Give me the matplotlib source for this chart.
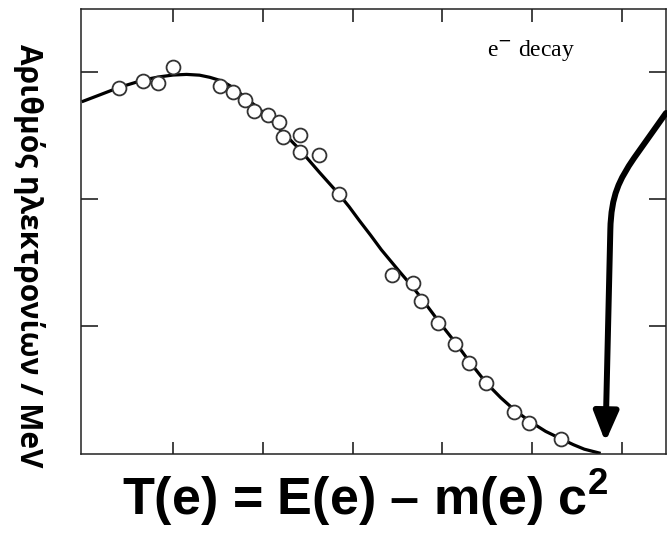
import numpy as np
import matplotlib
matplotlib.use("Agg")
import matplotlib.pyplot as plt
from matplotlib.patches import FancyArrowPatch
from matplotlib.path import Path

plt.rcParams['mathtext.fontset'] = 'custom'
plt.rcParams['mathtext.rm'] = 'Liberation Sans:bold'
plt.rcParams['mathtext.bf'] = 'Liberation Sans:bold'

# measured points (kinetic energy in MeV, counts per MeV, arbitrary units)
energy_pts = [0.080, 0.133, 0.167, 0.199, 0.304, 0.333, 0.360, 0.380, 0.411, 0.436,
              0.445, 0.482, 0.482, 0.525, 0.569, 0.688, 0.734, 0.753, 0.791, 0.829,
              0.860, 0.897, 0.960, 0.992, 1.064]
counts_pts = [2.872, 2.931, 2.911, 3.037, 2.892, 2.840, 2.783, 2.695, 2.661, 2.604,
              2.491, 2.504, 2.372, 2.346, 2.039, 1.402, 1.336, 1.199, 1.026, 0.862,
              0.706, 0.549, 0.325, 0.239, 0.110]

# fitted spectrum curve
energy_fit = [0.0, 0.037, 0.081, 0.137, 0.170, 0.200, 0.230, 0.259, 0.282, 0.308,
              0.335, 0.360, 0.385, 0.411, 0.446, 0.482, 0.526, 0.569, 0.592, 0.615,
              0.640, 0.664, 0.704, 0.733, 0.753, 0.793, 0.831, 0.860, 0.898, 0.930,
              0.960, 0.994, 1.030, 1.065, 1.092, 1.116, 1.149]
counts_fit = [2.77, 2.82, 2.88, 2.94, 2.962, 2.976, 2.981, 2.975, 2.958, 2.93,
              2.875, 2.80, 2.73, 2.65, 2.52, 2.39, 2.21, 2.04, 1.94, 1.83,
              1.715, 1.60, 1.43, 1.31, 1.22, 1.03, 0.86, 0.72, 0.55, 0.435,
              0.34, 0.25, 0.17, 0.11, 0.065, 0.03, 0.0]

x_ticks = [0.2, 0.4, 0.6, 0.8, 1.0, 1.2]
y_ticks = [1, 2, 3]

fig = plt.figure(figsize=(6.67, 5.34), dpi=100)
ax = fig.add_axes([81/667, 80/534, 585/667, 445/534])

ax.plot(energy_fit, counts_fit, color='black', lw=2.3, zorder=2)
ax.plot(energy_pts, counts_pts, 'o', ms=10, mfc='white', mec='#333333', mew=1.3, zorder=3)

ax.set_xlim(-0.005, 1.298)
ax.set_ylim(-0.008, 3.496)
ax.set_xticks(x_ticks)
ax.set_yticks(y_ticks)
ax.tick_params(direction='in', top=True, right=True, labelbottom=False, labelleft=False,
               length=9, width=1.2, color='#222222')
ax.tick_params(axis='y', length=12)
for s in ax.spines.values():
    s.set_linewidth(1.1)
    s.set_color('#222222')

ax.text(0.998, 3.17, r"e$^{-}$ decay", family='Liberation Serif', fontsize=17,
        ha='center', va='center', math_fontfamily='dejavuserif')

# arrow pointing to the endpoint energy
verts = [(1.298, 2.677), (1.227, 2.323), (1.194, 2.150), (1.176, 2.031), (1.174, 1.756),
         (1.163, 0.087)]
codes = [Path.MOVETO, Path.LINETO, Path.CURVE4, Path.CURVE4, Path.CURVE4, Path.LINETO]
arrow = FancyArrowPatch(path=Path(verts, codes), arrowstyle='-|>,head_length=18,head_width=7.5',
                        lw=4.3, color='black', shrinkA=0, shrinkB=0, clip_on=False, zorder=4)
ax.add_patch(arrow)

ax.set_ylabel("Αριθμός ηλεκτρονίων / MeV", family='Open Sans', fontweight='bold',
              fontsize=21.5, rotation=270, va='center')
ax.yaxis.set_label_coords(-0.089, 0.445)
fig.text(0.547, 0.035, r"T(e) = E(e) – m(e) c$^{2}$", family='Liberation Sans',
         fontweight='bold', fontsize=37.5, ha='center', va='baseline')

fig.savefig("out.png", dpi=100)
